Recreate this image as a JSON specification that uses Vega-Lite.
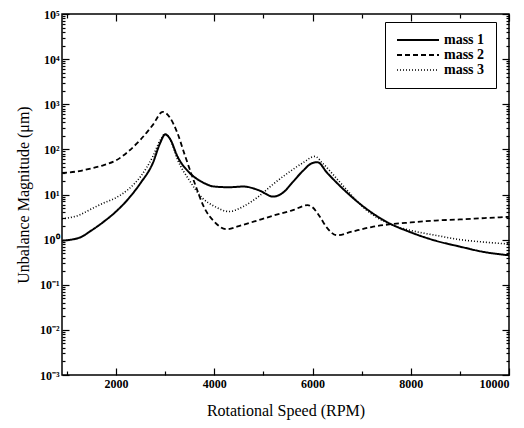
{
  "$schema": "https://vega.github.io/schema/vega-lite/v6.json",
  "autosize": "none",
  "width": 447,
  "height": 361,
  "padding": {"left": 62, "top": 14, "right": 15, "bottom": 53},
  "background": "white",
  "config": {
    "view": {"stroke": "black", "strokeWidth": 1.5},
    "font": "Liberation Serif",
    "axis": {"domainColor": "black", "tickColor": "black", "labelColor": "black", "titleColor": "black", "grid": false, "tickWidth": 1.2}
  },
  "data": {"values": [
    {"rpm": 900, "v": 0.95, "series": "mass 1"},
    {"rpm": 1250, "v": 1.1, "series": "mass 1"},
    {"rpm": 1500, "v": 1.6, "series": "mass 1"},
    {"rpm": 1750, "v": 2.5, "series": "mass 1"},
    {"rpm": 2000, "v": 4.2, "series": "mass 1"},
    {"rpm": 2250, "v": 8, "series": "mass 1"},
    {"rpm": 2500, "v": 18, "series": "mass 1"},
    {"rpm": 2750, "v": 50, "series": "mass 1"},
    {"rpm": 2900, "v": 140, "series": "mass 1"},
    {"rpm": 3000, "v": 215, "series": "mass 1"},
    {"rpm": 3100, "v": 170, "series": "mass 1"},
    {"rpm": 3250, "v": 70, "series": "mass 1"},
    {"rpm": 3500, "v": 30, "series": "mass 1"},
    {"rpm": 3750, "v": 19, "series": "mass 1"},
    {"rpm": 4000, "v": 15, "series": "mass 1"},
    {"rpm": 4300, "v": 14.5, "series": "mass 1"},
    {"rpm": 4600, "v": 15, "series": "mass 1"},
    {"rpm": 4900, "v": 12.5, "series": "mass 1"},
    {"rpm": 5200, "v": 9, "series": "mass 1"},
    {"rpm": 5400, "v": 11, "series": "mass 1"},
    {"rpm": 5600, "v": 19, "series": "mass 1"},
    {"rpm": 5800, "v": 33, "series": "mass 1"},
    {"rpm": 6000, "v": 50, "series": "mass 1"},
    {"rpm": 6100, "v": 52, "series": "mass 1"},
    {"rpm": 6300, "v": 30, "series": "mass 1"},
    {"rpm": 6600, "v": 14, "series": "mass 1"},
    {"rpm": 7000, "v": 5.8, "series": "mass 1"},
    {"rpm": 7500, "v": 2.5, "series": "mass 1"},
    {"rpm": 8000, "v": 1.45, "series": "mass 1"},
    {"rpm": 8500, "v": 0.95, "series": "mass 1"},
    {"rpm": 9000, "v": 0.7, "series": "mass 1"},
    {"rpm": 9500, "v": 0.53, "series": "mass 1"},
    {"rpm": 10000, "v": 0.45, "series": "mass 1"},
    {"rpm": 900, "v": 30, "series": "mass 2"},
    {"rpm": 1250, "v": 33, "series": "mass 2"},
    {"rpm": 1500, "v": 38, "series": "mass 2"},
    {"rpm": 1750, "v": 45, "series": "mass 2"},
    {"rpm": 2000, "v": 57, "series": "mass 2"},
    {"rpm": 2250, "v": 90, "series": "mass 2"},
    {"rpm": 2500, "v": 165, "series": "mass 2"},
    {"rpm": 2750, "v": 350, "series": "mass 2"},
    {"rpm": 2950, "v": 680, "series": "mass 2"},
    {"rpm": 3100, "v": 500, "series": "mass 2"},
    {"rpm": 3250, "v": 230, "series": "mass 2"},
    {"rpm": 3400, "v": 75, "series": "mass 2"},
    {"rpm": 3600, "v": 18, "series": "mass 2"},
    {"rpm": 3800, "v": 5, "series": "mass 2"},
    {"rpm": 4000, "v": 2.5, "series": "mass 2"},
    {"rpm": 4250, "v": 1.7, "series": "mass 2"},
    {"rpm": 4500, "v": 2, "series": "mass 2"},
    {"rpm": 4800, "v": 2.5, "series": "mass 2"},
    {"rpm": 5200, "v": 3.4, "series": "mass 2"},
    {"rpm": 5600, "v": 4.5, "series": "mass 2"},
    {"rpm": 5900, "v": 5.8, "series": "mass 2"},
    {"rpm": 6000, "v": 5.2, "series": "mass 2"},
    {"rpm": 6150, "v": 3.2, "series": "mass 2"},
    {"rpm": 6300, "v": 1.8, "series": "mass 2"},
    {"rpm": 6500, "v": 1.25, "series": "mass 2"},
    {"rpm": 6800, "v": 1.5, "series": "mass 2"},
    {"rpm": 7200, "v": 1.9, "series": "mass 2"},
    {"rpm": 7600, "v": 2.2, "series": "mass 2"},
    {"rpm": 8000, "v": 2.4, "series": "mass 2"},
    {"rpm": 8500, "v": 2.65, "series": "mass 2"},
    {"rpm": 9000, "v": 2.8, "series": "mass 2"},
    {"rpm": 9500, "v": 3.0, "series": "mass 2"},
    {"rpm": 10000, "v": 3.2, "series": "mass 2"},
    {"rpm": 900, "v": 2.9, "series": "mass 3"},
    {"rpm": 1250, "v": 3.5, "series": "mass 3"},
    {"rpm": 1500, "v": 4.8, "series": "mass 3"},
    {"rpm": 1750, "v": 6.5, "series": "mass 3"},
    {"rpm": 2000, "v": 8.5, "series": "mass 3"},
    {"rpm": 2250, "v": 13, "series": "mass 3"},
    {"rpm": 2500, "v": 25, "series": "mass 3"},
    {"rpm": 2750, "v": 70, "series": "mass 3"},
    {"rpm": 2900, "v": 160, "series": "mass 3"},
    {"rpm": 3000, "v": 220, "series": "mass 3"},
    {"rpm": 3100, "v": 170, "series": "mass 3"},
    {"rpm": 3250, "v": 60, "series": "mass 3"},
    {"rpm": 3500, "v": 20, "series": "mass 3"},
    {"rpm": 3750, "v": 8.5, "series": "mass 3"},
    {"rpm": 4000, "v": 5.5, "series": "mass 3"},
    {"rpm": 4300, "v": 4.2, "series": "mass 3"},
    {"rpm": 4600, "v": 5.5, "series": "mass 3"},
    {"rpm": 4900, "v": 9, "series": "mass 3"},
    {"rpm": 5200, "v": 17, "series": "mass 3"},
    {"rpm": 5500, "v": 30, "series": "mass 3"},
    {"rpm": 5800, "v": 50, "series": "mass 3"},
    {"rpm": 6050, "v": 70, "series": "mass 3"},
    {"rpm": 6200, "v": 50, "series": "mass 3"},
    {"rpm": 6500, "v": 22, "series": "mass 3"},
    {"rpm": 6800, "v": 9.5, "series": "mass 3"},
    {"rpm": 7100, "v": 4.5, "series": "mass 3"},
    {"rpm": 7500, "v": 2.4, "series": "mass 3"},
    {"rpm": 8000, "v": 1.6, "series": "mass 3"},
    {"rpm": 8500, "v": 1.25, "series": "mass 3"},
    {"rpm": 9000, "v": 1.0, "series": "mass 3"},
    {"rpm": 9500, "v": 0.88, "series": "mass 3"},
    {"rpm": 10000, "v": 0.8, "series": "mass 3"}
  ]},
  "layer": [
    {
      "mark": {"type": "line", "interpolate": "monotone", "color": "black", "clip": true},
      "encoding": {
        "x": {
          "field": "rpm", "type": "quantitative",
          "scale": {"domain": [900, 10000], "nice": false, "zero": false},
          "axis": {
            "title": "Rotational Speed (RPM)", "titleFontSize": 16, "titleFontWeight": "normal", "titlePadding": 10,
            "values": [1000, 2000, 3000, 4000, 5000, 6000, 7000, 8000, 9000, 10000],
            "labelExpr": "datum.value % 2000 == 0 ? format(datum.value, 'd') : ''",
            "labelOverlap": false,
            "labelFontSize": 12, "labelFontWeight": "bold", "labelPadding": 10,
            "tickSize": {"condition": {"test": "datum.value % 2000 == 0", "value": -7}, "value": -4},
            "domain": false
          }
        },
        "y": {
          "field": "v", "type": "quantitative",
          "scale": {"type": "log", "domain": [0.001, 100000], "nice": false},
          "axis": {
            "title": "Unbalance Magnitude (μm)", "titleFontSize": 16, "titleFontWeight": "normal", "titlePadding": 8,
            "values": [0.001, 0.002, 0.003, 0.004, 0.005, 0.006, 0.007, 0.008, 0.009,
                       0.01, 0.02, 0.03, 0.04, 0.05, 0.06, 0.07, 0.08, 0.09,
                       0.1, 0.2, 0.3, 0.4, 0.5, 0.6, 0.7, 0.8, 0.9,
                       1, 2, 3, 4, 5, 6, 7, 8, 9,
                       10, 20, 30, 40, 50, 60, 70, 80, 90,
                       100, 200, 300, 400, 500, 600, 700, 800, 900,
                       1000, 2000, 3000, 4000, 5000, 6000, 7000, 8000, 9000,
                       10000, 20000, 30000, 40000, 50000, 60000, 70000, 80000, 90000, 100000],
            "labelExpr": "abs(log(datum.value)/LN10 - round(log(datum.value)/LN10)) < 0.001 ? '10' + (datum.value < 0.5 ? '⁻' : '') + ['⁰','¹','²','³','⁴','⁵'][abs(round(log(datum.value)/LN10))] : ''",
            "labelOverlap": false,
            "labelFontSize": 12, "labelFontWeight": "bold", "labelPadding": 10,
            "tickSize": {"condition": {"test": "abs(log(datum.value)/LN10 - round(log(datum.value)/LN10)) < 0.001", "value": -7}, "value": -3},
            "domain": false
          }
        },
        "strokeDash": {
          "field": "series", "type": "nominal",
          "scale": {"domain": ["mass 1", "mass 2", "mass 3"], "range": [[1, 0], [5, 3], [1, 2]]},
          "legend": {
            "title": null, "orient": "none", "legendX": 323, "legendY": 8,
            "symbolType": "M-1,0H6", "symbolSize": 144, "symbolStrokeColor": "black", "symbolStrokeWidth": 1.5,
            "labelFontSize": 14, "labelFontWeight": "bold", "labelColor": "black", "labelOffset": 34,
            "labelExpr": "datum.label + '    '",
            "strokeColor": "black", "fillColor": "white", "padding": 11, "rowPadding": 1
          }
        },
        "strokeWidth": {
          "field": "series", "type": "nominal",
          "scale": {"domain": ["mass 1", "mass 2", "mass 3"], "range": [2, 1.6, 1]},
          "legend": null
        }
      }
    },
    {
      "mark": {"type": "line", "opacity": 0, "clip": true},
      "encoding": {
        "x": {
          "field": "rpm", "type": "quantitative",
          "scale": {"domain": [900, 10000], "nice": false, "zero": false},
          "axis": {
            "orient": "top", "title": null, "labels": false, "domain": false,
            "values": [1000, 2000, 3000, 4000, 5000, 6000, 7000, 8000, 9000, 10000],
            "tickSize": {"condition": {"test": "datum.value % 2000 == 0", "value": -7}, "value": -4}
          }
        },
        "y": {
          "field": "v", "type": "quantitative",
          "scale": {"type": "log", "domain": [0.001, 100000], "nice": false},
          "axis": {
            "orient": "right", "title": null, "labels": false, "domain": false,
            "values": [0.001, 0.002, 0.003, 0.004, 0.005, 0.006, 0.007, 0.008, 0.009,
                       0.01, 0.02, 0.03, 0.04, 0.05, 0.06, 0.07, 0.08, 0.09,
                       0.1, 0.2, 0.3, 0.4, 0.5, 0.6, 0.7, 0.8, 0.9,
                       1, 2, 3, 4, 5, 6, 7, 8, 9,
                       10, 20, 30, 40, 50, 60, 70, 80, 90,
                       100, 200, 300, 400, 500, 600, 700, 800, 900,
                       1000, 2000, 3000, 4000, 5000, 6000, 7000, 8000, 9000,
                       10000, 20000, 30000, 40000, 50000, 60000, 70000, 80000, 90000, 100000],
            "tickSize": {"condition": {"test": "abs(log(datum.value)/LN10 - round(log(datum.value)/LN10)) < 0.001", "value": -7}, "value": -3}
          }
        },
        "detail": {"field": "series", "type": "nominal"}
      }
    }
  ],
  "resolve": {"axis": {"x": "independent", "y": "independent"}}
}
